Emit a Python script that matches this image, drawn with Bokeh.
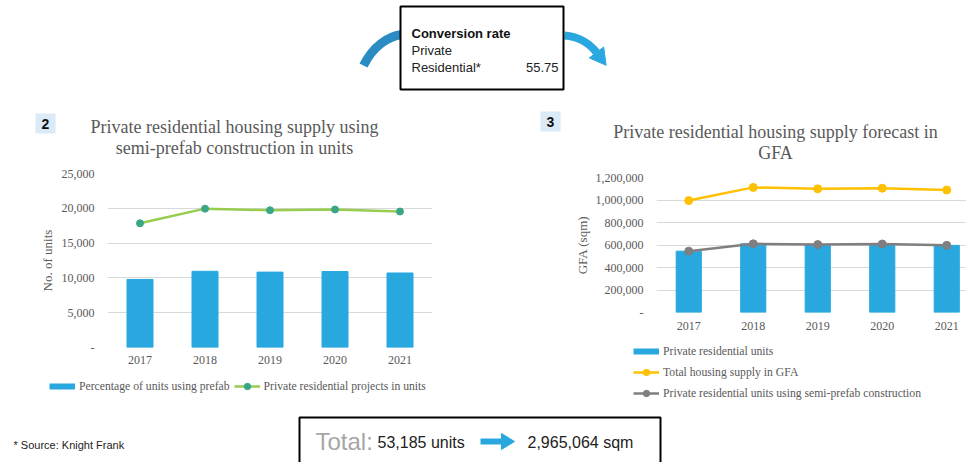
from bokeh.plotting import figure
from bokeh.models import (Range1d, FactorRange, FixedTicker, NumeralTickFormatter,
                          Legend, LegendItem)
from bokeh.layouts import column, row
from bokeh.embed import file_html
from bokeh.resources import INLINE
from bokeh.core.properties import value

# ---------------- data ----------------
years = ["2017", "2018", "2019", "2020", "2021"]
units_prefab = [9780, 10950, 10830, 10920, 10705]
units_projects = [17850, 19950, 19720, 19830, 19540]
gfa_units = [545235, 610463, 603773, 608790, 596804]
gfa_total = [995000, 1112000, 1099000, 1105000, 1089000]
gfa_prefab = [545235, 610463, 603773, 608790, 596804]
left_ticks = [0, 5000, 10000, 15000, 20000, 25000]
right_ticks = [0, 200000, 400000, 600000, 800000, 1000000, 1200000]
conversion_rate = 55.75
total_units = 53185
total_sqm = 2965064

left_title = ["Private residential housing supply using", "semi-prefab construction in units"]
right_title = ["Private residential housing supply forecast in", "GFA"]
left_legend = ["Percentage of units using prefab", "Private residential projects in units"]
right_legend = ["Private residential units", "Total housing supply in GFA",
                "Private residential units using semi-prefab construction"]

BLUE = "#29A8E0"
GREEN_LINE = "#97CC4E"
GREEN_MARK = "#38A687"
YELLOW = "#FFC000"
GREY = "#7F7F7F"
TXT = "#595959"
SERIF = "Liberation Serif"
SANS = "Liberation Sans"
W = 966
LW = 498
TOP_H = 163
xs = list(range(len(years)))


def blank(width, height, y0, y1):
    f = figure(width=width, height=height, x_range=Range1d(0, width), y_range=Range1d(y1, y0),
               x_axis_type=None, y_axis_type=None, toolbar_location=None,
               output_backend="svg", min_border=0, frame_align=False)
    f.grid.visible = False
    f.outline_line_color = None
    return f

# ---------------- top strip ----------------
top = blank(W, TOP_H, 0, TOP_H)
top.bezier(x0=[363], y0=[65], x1=[401], y1=[34], cx0=[373], cy0=[45], cx1=[388], cy1=[36],
           line_width=9, line_color="#2B8CC4")
top.bezier(x0=[564], y0=[35], x1=[596], y1=[52], cx0=[579], cy0=[36], cx1=[590], cy1=[44],
           line_width=8, line_color=BLUE)
top.patch(x=[588.8, 603.2, 605.6], y=[57.4, 46.6, 64.8], color=BLUE)
top.quad(left=[400], right=[563], top=[6], bottom=[89], fill_color="white",
         line_color="black", line_width=2)
top.text(x=[411], y=[33], text=["Conversion rate"], text_font=value(SANS), text_font_style="bold",
         text_font_size="13px", text_baseline="middle", text_color="#111111")
top.text(x=[411, 411], y=[50, 67], text=["Private", "Residential*"], text_font=value(SANS),
         text_font_size="13px", text_baseline="middle", text_color="#222222")
top.text(x=[558], y=[67], text=[f"{conversion_rate:.2f}"], text_font=value(SANS),
         text_font_size="13px", text_baseline="middle", text_align="right", text_color="#222222")
top.quad(left=[35, 540], right=[55, 560], top=[113, 111], bottom=[133, 131],
         fill_color="#DAEAF6", line_color=None)
top.text(x=[45, 550], y=[123, 121], text=["2", "3"], text_font=value(SANS), text_font_style="bold",
         text_font_size="14px", text_align="center", text_baseline="middle", text_color="#111111")
top.text(x=[234, 234], y=[126, 147], text=left_title, text_font=value(SERIF), text_font_size="18px",
         text_align="center", text_baseline="middle", text_color=TXT)
top.text(x=[775, 775], y=[131, 152], text=right_title, text_font=value(SERIF), text_font_size="18px",
         text_align="center", text_baseline="middle", text_color=TXT)


def style_axes(p, ylabel, ystand, xstand, lstand):
    for ax in (p.xaxis[0], p.yaxis[0]):
        ax.axis_line_color = None
        ax.major_tick_line_color = None
        ax.minor_tick_line_color = None
        ax.major_tick_out = 0
        ax.major_tick_in = 0
        ax.major_label_text_font = SERIF
        ax.major_label_text_font_size = "12px"
        ax.major_label_text_color = TXT
    p.yaxis.major_label_standoff = ystand
    p.xaxis.major_label_standoff = xstand
    p.yaxis.axis_label = ylabel
    p.yaxis.axis_label_text_font = SERIF
    p.yaxis.axis_label_text_font_size = "13px"
    p.yaxis.axis_label_text_font_style = "normal"
    p.yaxis.axis_label_text_color = TXT
    p.yaxis.axis_label_standoff = lstand
    p.yaxis.formatter = NumeralTickFormatter(format="0,0")
    p.yaxis.major_label_overrides = {0: "-"}
    p.xgrid.visible = False
    p.ygrid.grid_line_color = "#D9D9D9"
    p.outline_line_color = None


def legend_fig(width, height, entries, orientation, loc):
    # legend-only strip: series drawn far outside the 0..1 view, so only the legend shows
    lf = figure(width=width, height=height, x_range=Range1d(0, 1), y_range=Range1d(0, 1),
                x_axis_type=None, y_axis_type=None, toolbar_location=None,
                output_backend="svg", min_border=0, frame_align=False)
    lf.grid.visible = False
    lf.outline_line_color = None
    items = []
    for label, kind, color, mcolor, vals in entries:
        if kind == "bar":
            rs = [lf.line(xs, vals, line_width=6, color=color)]
        else:
            rs = [lf.line(xs, vals, line_width=2.5, color=color),
                  lf.scatter(xs, vals, size=7, fill_color=mcolor, line_color=mcolor)]
        items.append(LegendItem(label=label, renderers=rs))
    leg = Legend(items=items, orientation=orientation, location=loc, glyph_width=26,
                 glyph_height=16, label_height=18 if orientation == "vertical" else 16,
                 label_standoff=4, spacing=3 if orientation == "vertical" else 4,
                 padding=0, margin=0, background_fill_alpha=0, border_line_alpha=0,
                 label_text_font=SERIF, label_text_font_size="11.7px", label_text_color=TXT)
    lf.add_layout(leg)
    return lf

# ---------------- left chart ----------------
left = figure(width=LW, height=209, x_range=FactorRange(factors=years, range_padding=0),
              y_range=Range1d(0, 25000), toolbar_location=None, output_backend="svg",
              frame_align=False,
              min_border_left=107, min_border_right=66, min_border_top=10, min_border_bottom=25)
left.vbar(x=years, top=units_prefab, width=0.4, color=BLUE)
left.line(years, units_projects, line_width=2.5, color=GREEN_LINE)
left.scatter(years, units_projects, size=7, fill_color=GREEN_MARK, line_color=GREEN_MARK)
left.yaxis.ticker = FixedTicker(ticks=left_ticks)
style_axes(left, "No. of units", 13, 8, 4)
left_leg = legend_fig(LW, 33, [(left_legend[0], "bar", BLUE, BLUE, units_prefab),
                               (left_legend[1], "line", GREEN_LINE, GREEN_MARK, units_projects)],
                      "horizontal", (49, 11))

# ---------------- right chart ----------------
right = figure(width=W - LW, height=175, x_range=Range1d(-0.5, 4.306),
               y_range=Range1d(0, 1200000), toolbar_location=None, output_backend="svg",
               frame_align=False,
               min_border_left=158, min_border_right=0, min_border_top=14, min_border_bottom=26)
right.vbar(x=xs, top=gfa_units, width=0.39, color=BLUE)
right.line(xs, gfa_total, line_width=2.5, color=YELLOW)
right.scatter(xs, gfa_total, size=8, color=YELLOW)
right.line(xs, gfa_prefab, line_width=2.5, color=GREY)
right.scatter(xs, gfa_prefab, size=8, color=GREY)
right.yaxis.ticker = FixedTicker(ticks=right_ticks)
right.xaxis.ticker = FixedTicker(ticks=xs)
style_axes(right, "GFA (sqm)", 13, 9, 3)
right.xaxis.major_label_overrides = {i: y for i, y in zip(xs, years)}
right_leg = legend_fig(W - LW, 67, [(right_legend[0], "bar", BLUE, BLUE, gfa_units),
                                    (right_legend[1], "line", YELLOW, YELLOW, gfa_total),
                                    (right_legend[2], "line", GREY, GREY, gfa_prefab)],
                       "vertical", (135, 3))

# ---------------- bottom strip ----------------
bot = blank(W, 57, 405, 462)
bot.text(x=[13], y=[444], text=["* Source: Knight Frank"], text_font=value(SANS), text_font_size="11px",
         text_baseline="middle", text_color="#222222")
bot.quad(left=[299], right=[660], top=[417], bottom=[480], fill_color="white",
         line_color="black", line_width=2)
bot.text(x=[315], y=[441], text=["Total:"], text_font=value(SANS), text_font_size="24px",
         text_baseline="middle", text_color="#A6A6A6")
bot.text(x=[377], y=[442], text=[f"{total_units:,} units"], text_font=value(SANS), text_font_size="16px",
         text_baseline="middle", text_color="#222222")
bot.segment(x0=[480], y0=[441], x1=[503], y1=[441], line_width=6, line_color=BLUE)
bot.patch(x=[501, 501, 514], y=[433, 449, 441], color=BLUE)
bot.text(x=[527], y=[442], text=[f"{total_sqm:,} sqm"], text_font=value(SANS), text_font_size="16px",
         text_baseline="middle", text_color="#222222")

layout = column(top, row(column(left, left_leg), column(right, right_leg)), bot)
open("out.html", "w").write(file_html(layout, INLINE))
